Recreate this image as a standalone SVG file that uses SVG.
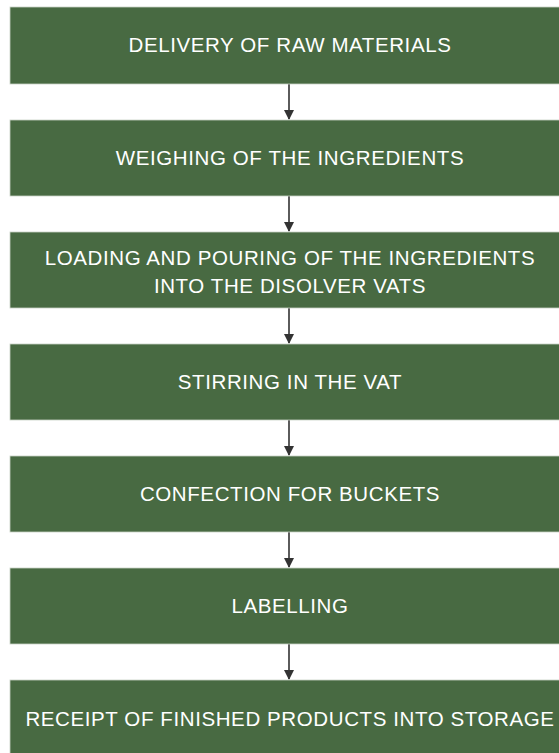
<svg xmlns="http://www.w3.org/2000/svg" width="559" height="753" viewBox="0 0 559 753">
<style>
.box{fill:#486a42;stroke:#c9d3c6;stroke-width:0.8}
.t{font-family:"Liberation Sans",Arial,sans-serif;font-size:20.5px;letter-spacing:0.6px;fill:#ffffff;text-anchor:middle}
.c{stroke:#333333;stroke-width:1.6;fill:none}
</style>
<defs>
<marker id="ah" markerWidth="10" markerHeight="10" refX="9" refY="5" orient="auto" markerUnits="userSpaceOnUse">
<path d="M0,0 L10,5 L0,10 z" fill="#333333"/>
</marker>
</defs>
<rect x="0" y="0" width="559" height="753" fill="#ffffff"/>
<g id="connectors">
<line class="c" x1="289" y1="84" x2="289" y2="119" marker-end="url(#ah)"/>
<line class="c" x1="289" y1="196" x2="289" y2="231" marker-end="url(#ah)"/>
<line class="c" x1="289" y1="308" x2="289" y2="343" marker-end="url(#ah)"/>
<line class="c" x1="289" y1="420" x2="289" y2="455" marker-end="url(#ah)"/>
<line class="c" x1="289" y1="532" x2="289" y2="567" marker-end="url(#ah)"/>
<line class="c" x1="289" y1="644" x2="289" y2="679" marker-end="url(#ah)"/>
</g>
<g id="n1"><rect class="box" x="10" y="7" width="560" height="77"/><text class="t" x="290" y="52">DELIVERY OF RAW MATERIALS</text></g>
<g id="n2"><rect class="box" x="10" y="120" width="560" height="76"/><text class="t" x="290" y="165">WEIGHING OF THE INGREDIENTS</text></g>
<g id="n3"><rect class="box" x="10" y="232" width="560" height="76"/><text class="t" x="290" y="265">LOADING AND POURING OF THE INGREDIENTS</text><text class="t" x="290" y="293">INTO THE DISOLVER VATS</text></g>
<g id="n4"><rect class="box" x="10" y="344" width="560" height="76"/><text class="t" x="290" y="389">STIRRING IN THE VAT</text></g>
<g id="n5"><rect class="box" x="10" y="456" width="560" height="76"/><text class="t" x="290" y="501">CONFECTION FOR BUCKETS</text></g>
<g id="n6"><rect class="box" x="10" y="568" width="560" height="76"/><text class="t" x="290" y="613">LABELLING</text></g>
<g id="n7"><rect class="box" x="10" y="680" width="560" height="80"/><text class="t" x="290" y="726">RECEIPT OF FINISHED PRODUCTS INTO STORAGE</text></g>
</svg>
